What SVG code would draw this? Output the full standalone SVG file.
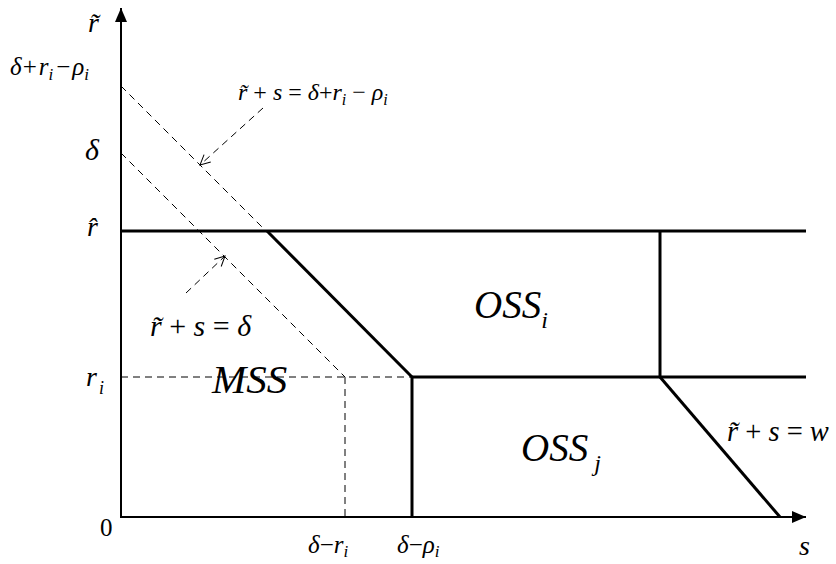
<svg xmlns="http://www.w3.org/2000/svg" width="836" height="564" viewBox="0 0 836 564">
  <style>
    .t { font-style: italic; }
    .u { font-style: normal; }
    .thick { stroke: #000; stroke-width: 3; fill: none; }
    .axis { stroke: #000; stroke-width: 2; fill: none; }
    .dash { stroke: #000; stroke-width: 1; stroke-dasharray: 7 5; fill: none; }
  </style>
  <defs>
    <marker id="solidHead" markerWidth="16" markerHeight="12" refX="14" refY="6" orient="auto" markerUnits="userSpaceOnUse">
      <path d="M0,0 L14,6 L0,12 Z" fill="#000"/>
    </marker>
    <marker id="openHead" markerWidth="12" markerHeight="12" refX="11" refY="6" orient="auto" markerUnits="userSpaceOnUse">
      <path d="M1,1 L11,6 L1,11" fill="none" stroke="#000" stroke-width="1"/>
    </marker>
  </defs>

  <rect width="836" height="564" fill="#fff"/>

  <!-- axes -->
  <g id="axes">
    <line class="axis" x1="121" y1="518" x2="121" y2="8" marker-end="url(#solidHead)"/>
    <line class="axis" x1="120" y1="517" x2="806" y2="517" marker-end="url(#solidHead)"/>
  </g>

  <!-- connectors: region boundaries, guide lines and pointers -->
  <g id="connectors">
    <!-- region boundaries -->
    <line class="thick" x1="121" y1="231" x2="806" y2="231"/>
    <line class="thick" x1="412" y1="377" x2="806" y2="377"/>
    <line class="thick" x1="267" y1="231" x2="412" y2="377"/>
    <line class="thick" x1="412" y1="377" x2="412" y2="517"/>
    <line class="thick" x1="660" y1="231" x2="660" y2="377"/>
    <line class="thick" x1="660" y1="377" x2="780" y2="517"/>
    <!-- dashed guides -->
    <line class="dash" x1="121" y1="86" x2="266" y2="231"/>
    <line class="dash" x1="121" y1="153" x2="345" y2="377"/>
    <line class="dash" x1="121" y1="377" x2="412" y2="377"/>
    <line class="dash" x1="345" y1="377" x2="345" y2="517"/>
    <!-- pointers to the guide lines -->
    <line class="dash" x1="263" y1="108" x2="200" y2="165" marker-end="url(#openHead)"/>
    <line class="dash" x1="186" y1="293" x2="225" y2="256" marker-end="url(#openHead)"/>
  </g>

  <g font-family="Liberation Serif, DejaVu Serif, serif" fill="#000">
    <!-- axis tick labels -->
    <g id="labels-axis">
      <text class="t" x="88" y="32" font-size="28">r&#x303;</text>
      <text class="t" x="10" y="75" font-size="25">δ<tspan class="u" dx="1">+</tspan><tspan dx="2">r</tspan><tspan font-size="17" dy="5">i</tspan><tspan class="u" dy="-5" dx="3">−</tspan><tspan dx="2">ρ</tspan><tspan font-size="17" dy="5">i</tspan></text>
      <text class="t" x="85" y="160" font-size="30">δ</text>
      <text class="t" x="87" y="236" font-size="28">r&#x302;</text>
      <text class="t" x="86" y="386" font-size="28">r<tspan font-size="18" dy="8" dx="2">i</tspan></text>
      <text class="u" x="100" y="536" font-size="25">0</text>
      <text class="t" x="308" y="553" font-size="25">δ<tspan class="u">−</tspan>r<tspan font-size="17" dy="4">i</tspan></text>
      <text class="t" x="397" y="553" font-size="25">δ<tspan class="u">−</tspan>ρ<tspan font-size="17" dy="4">i</tspan></text>
      <text class="t" x="799" y="555" font-size="28">s</text>
    </g>

    <!-- line equations -->
    <g id="eq-outer">
      <text class="t" x="238" y="100" font-size="24">r&#x303;<tspan class="u"> + </tspan>s<tspan class="u"> = </tspan>δ<tspan class="u">+</tspan>r<tspan font-size="16" dy="5">i</tspan><tspan class="u" dy="-5"> − </tspan>ρ<tspan font-size="16" dy="5">i</tspan></text>
    </g>
    <g id="eq-inner">
      <text class="t" x="150" y="336" font-size="30">r&#x303;<tspan class="u"> + </tspan>s<tspan class="u"> = </tspan>δ</text>
    </g>
    <g id="eq-w">
      <text class="t" x="727" y="441" font-size="28.5">r&#x303;<tspan class="u"> + </tspan>s<tspan class="u"> = </tspan>w</text>
    </g>

    <!-- region names -->
    <g id="region-mss">
      <text class="t" x="212" y="393" font-size="41">MSS</text>
    </g>
    <g id="region-oss-i">
      <text class="t" x="474" y="318" font-size="39">OSS<tspan font-size="24" dy="10">i</tspan></text>
    </g>
    <g id="region-oss-j">
      <text class="t" x="521" y="461" font-size="39">OSS<tspan font-size="24" dy="10" dx="6">j</tspan></text>
    </g>
  </g>
</svg>
